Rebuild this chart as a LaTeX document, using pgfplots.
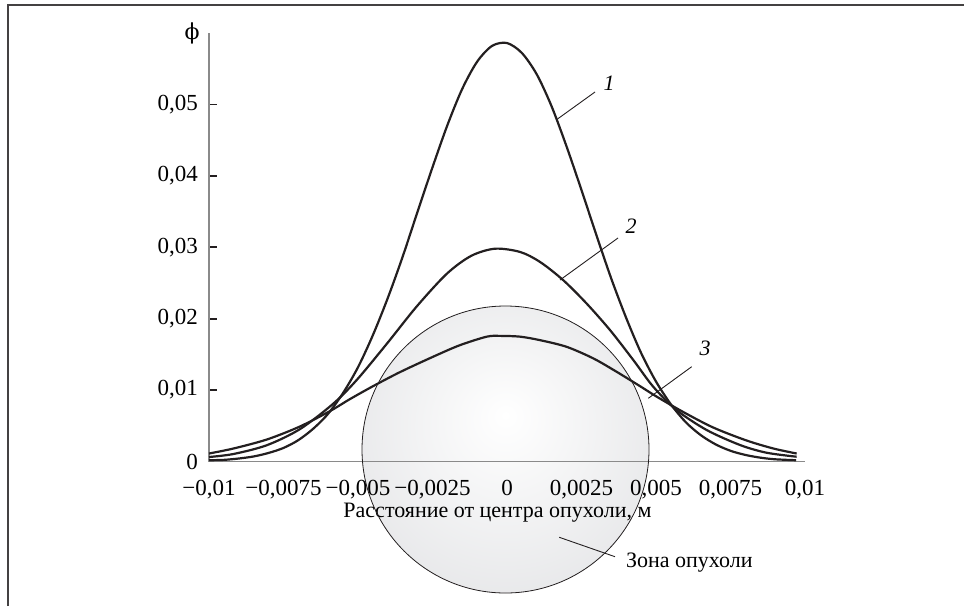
\documentclass[border=0pt]{standalone}
\usepackage{fontspec}
\setmainfont{Liberation Serif}
\newfontfamily\greekfont{DejaVu Serif}
\usepackage{pgfplots}
\pgfplotsset{compat=1.18}
\definecolor{ink}{HTML}{231F20}
\definecolor{axgray}{HTML}{8A8A8A}
\definecolor{zone}{HTML}{D8D9DC}
\pgfdeclareradialshading{tumour}{\pgfpoint{0bp}{6bp}}{color(0bp)=(white); color(48bp)=(zone); color(50bp)=(zone)}

\begin{document}
\begin{tikzpicture}[font=\fontsize{11}{13}\selectfont]
\useasboundingbox (0,0) rectangle (482pt,-303pt);
% frame and tumour zone (behind the axis), pixel units
\begin{scope}[x=0.5pt,y=-0.5pt]
  \draw[line width=1pt, ink!85] (8,606) -- (8,5) -- (964,5);
  \shade[shading=tumour] (505.5,449.5) circle (71.75pt);
\end{scope}

\begin{axis}[
  at={(104.5pt,-230.75pt)}, anchor=south west,
  scale only axis, width=298pt, height=214.25pt,
  xmin=-0.01, xmax=0.01, ymin=0, ymax=0.06,
  enlargelimits=false, clip=false,
  axis x line*=bottom, axis y line*=left,
  axis line style={axgray, line width=0.8pt},
  tick align=inside, major tick length=4pt,
  scaled ticks=false,
  xtick={-0.01,-0.0075,-0.005,-0.0025,0,0.0025,0.005,0.0075,0.01},
  xticklabels={{−0,01},{−0,0075},{−0,005},{−0,0025},{0},{0,0025},{0,005},{0,0075},{0,01}},
  ytick={0,0.01,0.02,0.03,0.04,0.05},
  yticklabels={{0},{0,01},{0,02},{0,03},{0,04},{0,05}},
  xtick style={draw=none},
  ytick style={ink, line width=0.9pt},
  every tick label/.append style={font=\fontsize{11.5}{13}\selectfont},
  x tick label style={yshift=-6pt},
  y tick label style={xshift=-2pt},
  xlabel={Расстояние от центра опухоли, м},
  ylabel={{\greekfont ϕ}},
  every axis x label/.style={at={(axis description cs:0.484,-0.12)}, anchor=center},
  every axis y label/.style={at={(axis description cs:-0.0285,1.0)}, anchor=center},
]
% curve 1
\addplot[ink, line width=1.1pt, smooth] coordinates {
(-0.0100,0.00018) (-0.0095,0.00023) (-0.0090,0.00042) (-0.0085,0.00071)
(-0.0080,0.0012) (-0.0075,0.0019) (-0.0070,0.0030) (-0.0065,0.0046)
(-0.0060,0.0067) (-0.0055,0.0096) (-0.0050,0.0132) (-0.0045,0.0177)
(-0.0040,0.0229) (-0.0035,0.0287) (-0.0030,0.0350) (-0.0025,0.0412)
(-0.0020,0.0471) (-0.0015,0.0522) (-0.0010,0.0560) (-0.0005,0.0582)
(0.0000,0.0586) (0.0005,0.0572) (0.0010,0.0542) (0.0015,0.0497)
(0.0020,0.0441) (0.0025,0.0380) (0.0030,0.0317) (0.0035,0.0256)
(0.0040,0.0201) (0.0045,0.0152) (0.0050,0.0112) (0.0055,0.0080)
(0.0060,0.0055) (0.0065,0.0037) (0.0070,0.0024) (0.0075,0.0015)
(0.0080,0.00092) (0.0085,0.00054) (0.0090,0.00031) (0.0097,0.00018)};
% curve 2
\addplot[ink, line width=1.1pt, smooth] coordinates {
(-0.0100,0.00063) (-0.00918,0.00105) (-0.00806,0.00228) (-0.00695,0.00453)
(-0.00583,0.00810) (-0.00504,0.01143) (-0.00404,0.01645) (-0.00303,0.02171)
(-0.00202,0.02629) (-0.00120,0.02880) (-0.00040,0.02980)
(0.00044,0.02934) (0.00111,0.02794) (0.00189,0.02538) (0.00267,0.02213)
(0.00346,0.01839) (0.00424,0.01420) (0.00491,0.01046) (0.00569,0.00720)
(0.00670,0.00441) (0.00782,0.00231) (0.00871,0.00123) (0.00972,0.00067)};
% curve 3
\addplot[ink, line width=1.1pt, smooth] coordinates {
(-0.0100,0.00112) (-0.00918,0.00182) (-0.00806,0.00308) (-0.00695,0.00490)
(-0.00594,0.00706) (-0.00527,0.00874) (-0.00449,0.01056) (-0.00359,0.01252)
(-0.00247,0.01469) (-0.00158,0.01629) (-0.00068,0.01748) (-0.00023,0.01759)
(0.00044,0.01748) (0.00111,0.01699) (0.00200,0.01606) (0.00290,0.01443)
(0.00368,0.01256) (0.00446,0.01056) (0.00502,0.00909) (0.00592,0.00692)
(0.00692,0.00476) (0.00804,0.00294) (0.00894,0.00182) (0.00972,0.00112)};
\end{axis}

% outline of the zone, leaders and curve numbers, pixel units
\begin{scope}[x=0.5pt,y=-0.5pt]
  \draw[line width=0.4pt, ink] (505.5,449.5) circle (71.75pt);
  \draw[line width=0.45pt, ink] (557.5,119) -- (595,92);
  \node[font=\fontsize{11}{13}\selectfont\itshape] at (609,83) {1};
  \draw[line width=0.45pt, ink] (560,280) -- (618,238);
  \node[font=\fontsize{11}{13}\selectfont\itshape] at (631,226) {2};
  \draw[line width=0.45pt, ink] (648.3,398.3) -- (691.7,366.7);
  \node[font=\fontsize{11}{13}\selectfont\itshape] at (705,348) {3};
  \draw[line width=0.45pt, ink] (559.3,537.3) -- (615,556.7);
  \node[anchor=west] at (619,563) {Зона опухоли};
\end{scope}
\end{tikzpicture}
\end{document}
